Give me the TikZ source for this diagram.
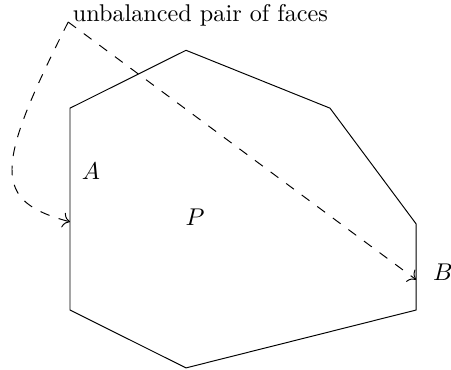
\documentclass[tikz,border=0pt]{standalone}
\usepackage{amsmath}
\usepackage{tikz}
\usetikzlibrary{arrows.meta, positioning, calc}

\begin{document}
\begin{tikzpicture}[>={To[scale=1.2]}, face/.style={thin}, pointer/.style={dash pattern=on 4pt off 4pt, ->}]
  \useasboundingbox (0,0) rectangle (6.546,5.37);
  % Polygon corners
  \coordinate (v1) at (1.016,3.80);
  \coordinate (v2) at (2.70,4.64);
  \coordinate (v3) at (4.79,3.80);
  \coordinate (v4) at (6.04,2.12);
  \coordinate (v5) at (6.04,0.87);
  \coordinate (v6) at (2.70,0.03);
  \coordinate (v7) at (1.016,0.87);
  \draw[face] (v1) -- (v2) -- (v3) -- (v4) -- (v5) -- (v6) -- (v7) -- cycle;
  % Labels
  \node (A) at (1.32,2.89) {$A$};
  \node (P) at (2.83,2.22) {$P$};
  \node (B) at (6.43,1.42) {$B$};
  \coordinate (apex) at (0.99,5.05);
  \coordinate (fa) at (1.016,2.15);
  \coordinate (fb) at (6.04,1.31);
  \node[anchor=base west, inner sep=0pt] (note) at (1.05,5.06) {unbalanced pair of faces};
  % Dashed pointers
  \draw[pointer] (apex) .. controls +(-1.09,-2.15) and +(-1.116,0.30) .. (fa);
  \draw[pointer] (apex) -- (fb);
\end{tikzpicture}
\end{document}
